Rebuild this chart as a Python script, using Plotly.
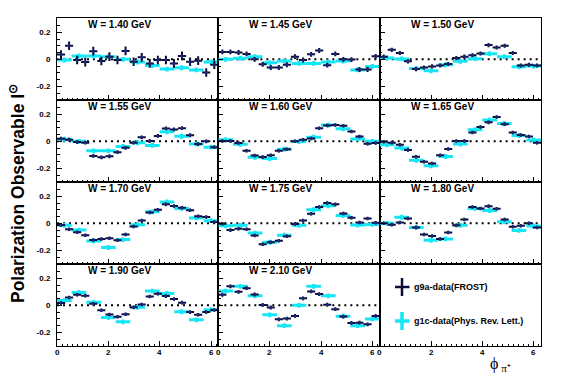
import plotly.graph_objects as go
from plotly.subplots import make_subplots

# ---------------- data ----------------
W_LABELS = ["W = 1.40 GeV", "W = 1.45 GeV", "W = 1.50 GeV",
            "W = 1.55 GeV", "W = 1.60 GeV", "W = 1.65 GeV",
            "W = 1.70 GeV", "W = 1.75 GeV", "W = 1.80 GeV",
            "W = 1.90 GeV", "W = 2.10 GeV"]

# g9a (FROST): 20 bins in phi
PHI_G9A = [0.157, 0.471, 0.785, 1.100, 1.414, 1.728, 2.042, 2.356, 2.670, 2.985,
           3.299, 3.613, 3.927, 4.241, 4.555, 4.869, 5.184, 5.498, 5.812, 6.126]
PHI_G9A_HALF = 0.157
# g1c (PRL): 11 bins in phi
PHI_G1C = [0.286, 0.857, 1.428, 1.999, 2.570, 3.142, 3.713, 4.284, 4.855, 5.426, 5.997]
PHI_G1C_HALF = 0.286

G9A_140 = [0.035, 0.10, -0.005, -0.02, 0.06, -0.012, 0.02, -0.005, 0.062, -0.018,
           0.015, -0.03, -0.005, -0.005, -0.03, 0.025, -0.018, -0.01, -0.097, -0.04]
G9A_145 = [0.055, 0.055, 0.05, 0.04, 0.0, -0.037, -0.06, -0.06, -0.04, 0.02,
           -0.005, 0.037, 0.065, -0.043, 0.04, 0.0, -0.002, -0.075, -0.075, 0.022]
G9A_150 = [0.02, 0.07, 0.047, -0.015, -0.072, -0.06, -0.052, -0.045, -0.035, 0.01,
           0.02, 0.03, 0.043, 0.105, 0.088, 0.1, 0.047, -0.045, -0.04, -0.045]
G9A_155 = [0.02, 0.012, -0.005, -0.01, -0.108, -0.118, -0.11, -0.08, -0.048, -0.01,
           0.03, 0.003, 0.04, 0.095, 0.088, 0.097, 0.045, -0.02, 0.0, -0.043]
G9A_160 = [0.003, 0.003, -0.012, -0.07, -0.105, -0.115, -0.103, -0.07, -0.058, 0.0,
           0.011, 0.021, 0.097, 0.117, 0.12, 0.115, 0.073, 0.036, -0.017, -0.012]
G9A_165 = [-0.003, -0.01, -0.025, -0.063, -0.113, -0.15, -0.163, -0.103, -0.057, 0.003,
           0.003, 0.065, 0.105, 0.14, 0.18, 0.127, 0.065, 0.046, 0.036, -0.011]
G9A_170 = [-0.013, -0.043, -0.065, -0.088, -0.123, -0.115, -0.11, -0.125, -0.083, -0.023,
           0.021, 0.08, 0.1, 0.14, 0.128, 0.115, 0.097, 0.052, 0.046, 0.01]
G9A_175 = [-0.003, -0.05, -0.04, -0.043, -0.09, -0.155, -0.14, -0.128, -0.095, -0.004,
           0.021, 0.07, 0.12, 0.15, 0.14, 0.073, 0.042, 0.006, 0.035, 0.005]
G9A_180 = [0.0, -0.01, 0.007, 0.035, -0.031, -0.083, -0.093, -0.115, -0.068, -0.015,
           0.028, 0.12, 0.11, 0.127, 0.107, 0.028, -0.025, -0.018, 0.0, -0.031]
G9A_190 = [0.018, 0.058, 0.078, 0.071, 0.011, -0.036, -0.068, -0.085, -0.065, -0.015,
           0.006, 0.066, 0.085, 0.068, 0.046, 0.02, -0.05, -0.07, -0.05, -0.035]
G9A_210 = [0.078, 0.14, 0.1, 0.127, 0.08, 0.003, -0.016, -0.103, -0.098, -0.078,
           0.052, 0.103, 0.083, 0.005, -0.028, -0.083, -0.13, -0.128, -0.14, -0.078]
G9A_ERR = [0.032, 0.018, 0.015, 0.014, 0.013, 0.013, 0.013, 0.013, 0.013, 0.013, 0.014]

G1C_140 = [-0.005, 0.025, 0.025, 0.02, 0.0, -0.02, -0.045, -0.072, -0.062, -0.078, -0.02]
G1C_145 = [0.0, 0.008, 0.02, -0.025, -0.012, -0.03, -0.03, -0.02, -0.012, -0.078, -0.052]
G1C_150 = [0.01, 0.003, -0.068, -0.085, -0.04, -0.015, 0.005, 0.042, 0.02, -0.055, -0.05]
G1C_155 = [0.015, 0.0, -0.07, -0.07, -0.038, -0.01, -0.03, 0.07, 0.038, -0.02, -0.043]
G1C_160 = [0.012, -0.022, -0.117, -0.127, -0.058, -0.002, 0.03, 0.12, 0.093, 0.018, 0.0]
G1C_165 = [-0.025, -0.05, -0.14, -0.18, -0.112, -0.02, 0.085, 0.157, 0.132, 0.043, 0.01]
G1C_170 = [-0.015, -0.05, -0.13, -0.178, -0.12, -0.01, 0.085, 0.158, 0.11, 0.04, 0.02]
G1C_175 = [-0.018, -0.015, -0.072, -0.14, -0.087, -0.015, 0.1, 0.13, 0.058, -0.012, -0.008]
G1C_180 = [0.0, 0.045, -0.03, -0.125, -0.115, -0.015, 0.11, 0.095, 0.012, -0.052, -0.02]
G1C_190 = [0.035, 0.095, 0.022, -0.09, -0.122, -0.015, 0.105, 0.088, -0.047, -0.107, -0.032]
G1C_210 = [0.105, 0.14, 0.07, -0.07, -0.15, 0.0, 0.14, 0.07, -0.08, -0.15, -0.1]
G1C_ERR = 0.018

Y_TICKS = [-0.2, 0, 0.2]
Y_TICK_TEXT = ["-0.2", "0", "0.2"]
X_TICKS = [0, 2, 4, 6]
X_TICK_TEXT = ["0", "2", "4", "6"]

G9A_PANELS = [G9A_140, G9A_145, G9A_150, G9A_155, G9A_160, G9A_165,
              G9A_170, G9A_175, G9A_180, G9A_190, G9A_210]
G1C_PANELS = [G1C_140, G1C_145, G1C_150, G1C_155, G1C_160, G1C_165,
              G1C_170, G1C_175, G1C_180, G1C_190, G1C_210]

# ---------------- style ----------------
NAVY = "#0c0c38"
NAVY_MARK = "#1b2a80"
CYAN = "#14e6f5"
FONT = "Liberation Sans"
W, H = 567, 384
ML, MR, MT, MB = 57, 26, 18, 38
PW, PH = W - ML - MR, H - MT - MB
TICKFONT = dict(family=FONT, size=8, color="black", weight="bold")


def px(xp):
    return (xp - ML) / PW


def py(yp):
    return (H - MB - yp) / PH


fig = make_subplots(rows=4, cols=3, horizontal_spacing=0, vertical_spacing=0)

for k in range(12):
    r, c = k // 3 + 1, k % 3 + 1
    n = k + 1
    xs = "x" if n == 1 else f"x{n}"
    ys = "y" if n == 1 else f"y{n}"
    if k < 11:
        fig.add_trace(go.Scatter(
            x=PHI_G1C, y=G1C_PANELS[k], mode="markers",
            marker=dict(size=3, color=CYAN),
            error_x=dict(type="constant", value=PHI_G1C_HALF, thickness=3, width=0, color=CYAN),
            error_y=dict(type="constant", value=G1C_ERR, thickness=3, width=0, color=CYAN),
            showlegend=False, hoverinfo="skip"), row=r, col=c)
        fig.add_trace(go.Scatter(
            x=PHI_G9A, y=G9A_PANELS[k], mode="markers",
            marker=dict(size=3, color=NAVY_MARK),
            error_x=dict(type="constant", value=PHI_G9A_HALF, thickness=2, width=0, color=NAVY),
            error_y=dict(type="constant", value=G9A_ERR[k], thickness=2, width=0, color=NAVY),
            showlegend=False, hoverinfo="skip"), row=r, col=c)
        fig.add_shape(type="line", xref=f"{xs} domain", x0=0, x1=1, yref=ys, y0=0, y1=0,
                      line=dict(color="black", width=2, dash="2px,4px"), layer="below")
        fig.add_annotation(text=W_LABELS[k], xref=f"{xs} domain", yref=f"{ys} domain",
                           x=0.18, y=0.915, xanchor="left", yanchor="middle", showarrow=False,
                           font=dict(family=FONT, size=10, color="black", weight="bold"))
    else:
        fig.add_trace(go.Scatter(x=[None], y=[None], mode="markers", showlegend=False,
                                 hoverinfo="skip"), row=r, col=c)
    fig.update_xaxes(row=r, col=c, range=[0, 6.2832], showline=True, mirror=True,
                     linecolor="black", linewidth=1, showgrid=False, zeroline=False,
                     ticks="inside", ticklen=5, tickwidth=1, tickcolor="black",
                     tickvals=X_TICKS, ticktext=X_TICK_TEXT,
                     minor=dict(ticks="inside", ticklen=2.5, dtick=0.2, tick0=0, tickcolor="black"),
                     showticklabels=False)
    fig.update_yaxes(row=r, col=c, range=[-0.3, 0.305], showline=True, mirror=True,
                     linecolor="black", linewidth=1, showgrid=False, zeroline=False,
                     ticks="inside" if k < 11 else "", ticklen=5, tickwidth=1, tickcolor="black",
                     tickvals=Y_TICKS, ticktext=Y_TICK_TEXT,
                     minor=dict(ticks="inside" if k < 11 else "", ticklen=2.5, dtick=0.05,
                                tick0=0, tickcolor="black"),
                     showticklabels=(c == 1), ticklabelstandoff=4, tickfont=TICKFONT)
    # bottom-row x tick labels, placed through each panel's x axis
    if r == 4:
        for tv, tt in zip(X_TICKS, X_TICK_TEXT):
            fig.add_annotation(text=tt, xref=xs, yref="paper", x=tv, y=py(353),
                               xanchor="center", yanchor="middle", showarrow=False,
                               font=TICKFONT)

# legend panel (drawn crosses + text)
legend_items = [("g9a-data(FROST)", NAVY, 2.5, 287), ("g1c-data(Phys. Rev. Lett.)", CYAN, 3.5, 321)]
for label, col, lw, yc in legend_items:
    fig.add_shape(type="line", xref="paper", yref="paper", x0=px(402), x1=px(402),
                  y0=py(yc - 9), y1=py(yc + 9), line=dict(color=col, width=lw))
    fig.add_shape(type="line", xref="paper", yref="paper", x0=px(395), x1=px(409.5),
                  y0=py(yc), y1=py(yc), line=dict(color=col, width=lw))
    fig.add_annotation(text=label, xref="paper", yref="paper", x=px(412), y=py(yc),
                       xanchor="left", yanchor="middle", showarrow=False,
                       font=dict(family=FONT, size=9, color="black", weight="bold"))

# axis titles
fig.add_annotation(text="Polarization Observable I<sup>⊙</sup>", xref="paper", yref="paper",
                   x=px(17), y=py(194), textangle=-90, showarrow=False,
                   xanchor="center", yanchor="middle",
                   font=dict(family=FONT, size=17.5, color="black", weight="bold"))
fig.add_annotation(text="ϕ<sub> π⁺</sub>", xref="paper", yref="paper",
                   x=px(488), y=py(364), showarrow=False, xanchor="left", yanchor="middle",
                   font=dict(family="Liberation Serif", size=16, color="black"))

fig.update_layout(width=W, height=H, margin=dict(l=ML, r=MR, t=MT, b=MB),
                  paper_bgcolor="white", plot_bgcolor="white", showlegend=False)

fig.write_html("out.html", config={"displayModeBar": False},
               post_script="document.body.style.margin='0';")
